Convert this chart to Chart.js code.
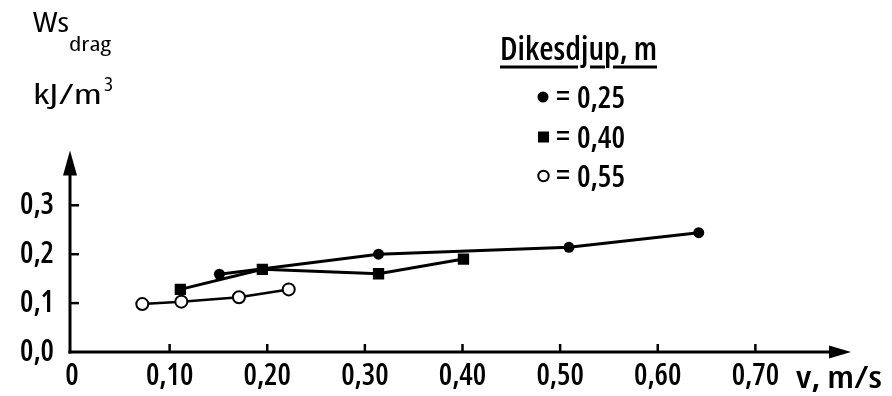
<!DOCTYPE html>
<html>
<head>
<meta charset="utf-8">
<script src="https://cdn.jsdelivr.net/npm/chart.js@4/dist/chart.umd.min.js"></script>
<style>
html,body{margin:0;padding:0;background:#fff;}
#wrap{width:892px;height:396px;position:relative;}
</style>
</head>
<body>
<div id="wrap"><canvas id="c" width="892" height="396"></canvas></div>
<script>
// Data
const seriesNames = ["0,25", "0,40", "0,55"];
const depth025X = [0.151, 0.314, 0.509, 0.642];
const depth025Y = [0.159, 0.200, 0.214, 0.244];
const depth040X = [0.111, 0.195, 0.314, 0.401];
const depth040Y = [0.128, 0.169, 0.160, 0.190];
const depth055X = [0.072, 0.112, 0.171, 0.222];
const depth055Y = [0.098, 0.103, 0.112, 0.128];
const xTickValues = [0, 0.1, 0.2, 0.3, 0.4, 0.5, 0.6, 0.7];
const xTickLabels = ["0", "0,10", "0,20", "0,30", "0,40", "0,50", "0,60", "0,70"];
const yTickValues = [0, 0.1, 0.2, 0.3];
const yTickLabels = ["0,0", "0,1", "0,2", "0,3"];
const legendTitle = "Dikesdjup, m";
const xAxisTitle = "v, m/s";
const yAxisTitle = "Ws";
const yAxisSub = "drag";
const yAxisUnit = "kJ/m";
const yAxisUnitSup = "3";

const FAMILY = "'Open Sans', 'DejaVu Sans Condensed', sans-serif";
const WEIGHT = "600 condensed";
const WEIGHT_T = "500 condensed";

function pts(xs, ys) { return xs.map((x, i) => ({ x: x, y: ys[i] })); }

function fitText(ctx, text, x, y, size, width, weight) {
  ctx.save();
  ctx.font = (weight || WEIGHT) + ' ' + size + 'px ' + FAMILY;
  const w = ctx.measureText(text).width;
  ctx.translate(x, y);
  ctx.scale(width / w, 1);
  ctx.fillText(text, 0, 0);
  ctx.restore();
}

const decor = {
  id: 'decor',
  beforeDraw(chart) {
    const ctx = chart.ctx;
    ctx.save();
    ctx.fillStyle = '#fff';
    ctx.fillRect(0, 0, chart.width, chart.height);
    ctx.restore();
  },
  afterDraw(chart) {
    const ctx = chart.ctx;
    const xs = chart.scales.x, ys = chart.scales.y;
    const x0 = xs.getPixelForValue(0) - 2;
    const y0 = ys.getPixelForValue(0);
    ctx.save();
    ctx.strokeStyle = '#000';
    ctx.fillStyle = '#000';
    ctx.lineWidth = 3;
    ctx.lineCap = 'butt';
    // y axis with arrow
    const yTop = ys.top;
    ctx.beginPath();
    ctx.moveTo(x0, y0 + 1.5);
    ctx.lineTo(x0, yTop + 20);
    ctx.stroke();
    ctx.beginPath();
    ctx.moveTo(x0, yTop - 1);
    ctx.lineTo(x0 - 7, yTop + 24);
    ctx.lineTo(x0 + 7, yTop + 24);
    ctx.closePath();
    ctx.fill();
    // x axis with arrow
    const xRight = xs.right - 2;
    ctx.beginPath();
    ctx.moveTo(x0 - 1.5, y0);
    ctx.lineTo(xRight - 18, y0);
    ctx.stroke();
    ctx.beginPath();
    ctx.moveTo(xRight, y0);
    ctx.lineTo(xRight - 22, y0 - 6.5);
    ctx.lineTo(xRight - 22, y0 + 6.5);
    ctx.closePath();
    ctx.fill();
    // inward tick marks
    ctx.lineWidth = 2.5;
    xTickValues.forEach(v => {
      if (v === 0) return;
      const px = xs.getPixelForValue(v);
      ctx.beginPath();
      ctx.moveTo(px, y0);
      ctx.lineTo(px, y0 - 8);
      ctx.stroke();
    });
    yTickValues.forEach(v => {
      if (v === 0) return;
      const py = ys.getPixelForValue(v);
      ctx.beginPath();
      ctx.moveTo(x0, py);
      ctx.lineTo(x0 + 9, py);
      ctx.stroke();
    });

    // axis titles
    ctx.textBaseline = 'alphabetic';
    ctx.textAlign = 'left';
    fitText(ctx, yAxisTitle, 33, 32, 28, 36, WEIGHT_T);
    fitText(ctx, yAxisSub, 69, 51, 19, 42, WEIGHT_T);
    fitText(ctx, yAxisUnit, 33, 104, 28, 69, WEIGHT_T);
    fitText(ctx, yAxisUnitSup, 104, 91, 20, 9, WEIGHT_T);
    fitText(ctx, xAxisTitle, 796, 388, 31, 86, WEIGHT);

    // legend
    fitText(ctx, legendTitle, 500, 60, 33, 157, WEIGHT);
    ctx.lineWidth = 3;
    [[500, 578], [590, 605], [613, 657]].forEach(s => {
      ctx.beginPath();
      ctx.moveTo(s[0], 67);
      ctx.lineTo(s[1], 67);
      ctx.stroke();
    });
    const rows = [97, 137, 176];
    // filled circle
    ctx.beginPath();
    ctx.arc(543, rows[0], 5.5, 0, Math.PI * 2);
    ctx.fill();
    // filled square
    ctx.fillRect(538, rows[1] - 5.5, 11, 11);
    // open circle
    ctx.lineWidth = 2;
    ctx.beginPath();
    ctx.arc(543.5, rows[2], 5.2, 0, Math.PI * 2);
    ctx.stroke();
    seriesNames.forEach((n, i) => {
      fitText(ctx, '=', 556, rows[i] + 9, 29, 14, WEIGHT);
      fitText(ctx, n, 577, rows[i] + 10.5, 30, 48, WEIGHT);
    });
    ctx.restore();
  }
};

new Chart(document.getElementById('c'), {
  type: 'scatter',
  data: {
    datasets: [
      {
        label: seriesNames[0],
        data: pts(depth025X, depth025Y),
        showLine: true,
        borderColor: '#000',
        borderWidth: 3,
        backgroundColor: '#000',
        pointStyle: 'circle',
        pointRadius: 5.5,
        pointBorderWidth: 0,
        pointBackgroundColor: '#000'
      },
      {
        label: seriesNames[1],
        data: pts(depth040X, depth040Y),
        showLine: true,
        borderColor: '#000',
        borderWidth: 3,
        backgroundColor: '#000',
        pointStyle: 'rect',
        pointRadius: 8,
        pointBorderWidth: 0,
        pointBackgroundColor: '#000'
      },
      {
        label: seriesNames[2],
        data: pts(depth055X, depth055Y),
        showLine: true,
        borderColor: '#000',
        borderWidth: 2.5,
        backgroundColor: '#fff',
        pointStyle: 'circle',
        pointRadius: 6,
        pointBorderWidth: 2,
        pointBorderColor: '#000',
        pointBackgroundColor: '#fff'
      }
    ]
  },
  options: {
    responsive: false,
    animation: false,
    devicePixelRatio: 1,
    layout: { padding: { left: 0, right: 39, top: 151.5, bottom: 0 } },
    plugins: { legend: { display: false }, tooltip: { enabled: false }, title: { display: false } },
    scales: {
      x: {
        type: 'linear',
        min: 0,
        max: 0.8,
        afterBuildTicks: s => { s.ticks = xTickValues.map(v => ({ value: v })); },
        afterFit: s => { s.height = 44; },
        grid: { display: false, drawTicks: false },
        border: { display: false },
        ticks: {
          autoSkip: false,
          maxRotation: 0,
          padding: 6,
          color: '#000',
          font: { family: FAMILY, size: 30, weight: WEIGHT },
          callback: (v, i) => xTickLabels[i]
        }
      },
      y: {
        type: 'linear',
        min: 0,
        max: 0.41,
        afterBuildTicks: s => { s.ticks = yTickValues.map(v => ({ value: v })); },
        afterFit: s => { s.width = 72; },
        grid: { display: false, drawTicks: false },
        border: { display: false },
        ticks: {
          autoSkip: false,
          padding: 18,
          color: '#000',
          font: { family: FAMILY, size: 30, weight: WEIGHT },
          callback: (v, i) => yTickLabels[i]
        }
      }
    }
  },
  plugins: [decor]
});
</script>
</body>
</html>
